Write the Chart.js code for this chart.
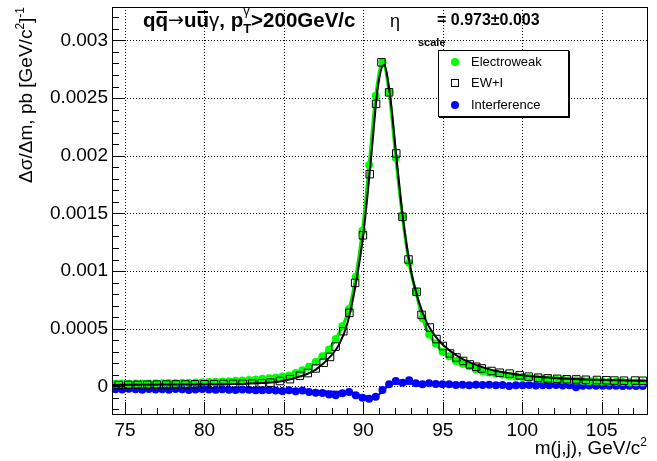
<!DOCTYPE html>
<html>
<head>
<meta charset="utf-8">
<script src="https://cdn.jsdelivr.net/npm/chart.js@4"></script>
<style>
  html, body { margin: 0; padding: 0; background: #fff; }
  canvas { display: block; }
</style>
</head>
<body>
<canvas id="massChart" width="657" height="461"></canvas>
<script>
// m(j,j) bin centres shared by the Electroweak and Interference histograms
const massBins = [
  74.40, 74.82, 75.24, 75.66, 76.08, 76.50, 76.92, 77.34, 77.76, 78.18,
  78.60, 79.02, 79.44, 79.86, 80.28, 80.70, 81.12, 81.54, 81.96, 82.38,
  82.80, 83.22, 83.64, 84.06, 84.48, 84.90, 85.32, 85.74, 86.16, 86.58,
  87.00, 87.42, 87.84, 88.26, 88.68, 89.10, 89.52, 89.94, 90.36, 90.78,
  91.20, 91.62, 92.04, 92.46, 92.88, 93.30, 93.72, 94.14, 94.56, 94.98,
  95.40, 95.82, 96.24, 96.66, 97.08, 97.50, 97.92, 98.34, 98.76, 99.18,
  99.60, 100.02, 100.44, 100.86, 101.28, 101.70, 102.12, 102.54, 102.96, 103.38,
  103.80, 104.22, 104.64, 105.06, 105.48, 105.90, 106.32, 106.74, 107.16, 107.58
];

const electroweak = [
  2.2e-5, 2.3e-5, 2.3e-5, 2.4e-5, 2.5e-5, 2.5e-5, 2.6e-5, 2.7e-5, 2.8e-5, 2.9e-5,
  3.1e-5, 3.2e-5, 3.4e-5, 3.6e-5, 3.8e-5, 4.0e-5, 4.2e-5, 4.5e-5, 4.8e-5, 5.1e-5,
  5.5e-5, 6.0e-5, 6.5e-5, 7.0e-5, 7.7e-5, 8.5e-5, 9.5e-5, 1.15e-4, 1.4e-4, 1.7e-4,
  2.1e-4, 2.6e-4, 3.2e-4, 4.1e-4, 5.2e-4, 6.7e-4, 9.5e-4, 1.35e-3, 1.92e-3, 2.52e-3,
  2.81e-3, 2.55e-3, 1.98e-3, 1.47e-3, 1.07e-3, 8.2e-4, 5.9e-4, 4.5e-4, 3.7e-4, 3.0e-4,
  2.6e-4, 2.2e-4, 1.95e-4, 1.75e-4, 1.45e-4, 1.3e-4, 1.2e-4, 1.1e-4, 1.0e-4, 9.2e-5,
  8.6e-5, 8.0e-5, 7.5e-5, 7.0e-5, 6.6e-5, 6.2e-5, 5.9e-5, 5.6e-5, 5.3e-5, 5.0e-5,
  4.8e-5, 4.6e-5, 4.4e-5, 4.2e-5, 4.0e-5, 3.9e-5, 3.7e-5, 3.6e-5, 3.4e-5, 3.3e-5
];

const interference = [
  -2.5e-5, -2.8e-5, -2.2e-5, -2.6e-5, -3.0e-5, -2.4e-5, -2.7e-5, -2.5e-5, -2.9e-5, -2.3e-5,
  -2.6e-5, -3.1e-5, -2.7e-5, -2.4e-5, -2.8e-5, -3.0e-5, -2.6e-5, -2.9e-5, -3.2e-5, -2.7e-5,
  -3.0e-5, -3.3e-5, -3.5e-5, -3.1e-5, -3.6e-5, -4.0e-5, -3.4e-5, -4.2e-5, -3.6e-5, -5.0e-5,
  -5.5e-5, -5.8e-5, -7.0e-5, -7.8e-5, -6.0e-5, -5.0e-5, -7.8e-5, -9.8e-5, -1.07e-4, -9.0e-5,
  -3.2e-5, 1.7e-5, 4.6e-5, 3.2e-5, 5.2e-5, 2.6e-5, 1.7e-5, 2.6e-5, 2.0e-5, 1.7e-5,
  1.7e-5, 1.2e-5, 1.4e-5, 1.0e-5, 1.3e-5, 1.1e-5, 1.3e-5, 1.0e-5, 1.2e-5, 0.2e-5,
  0.9e-5, 1.0e-5, 1.1e-5, 0.8e-5, 1.0e-5, 0.9e-5, 1.1e-5, 0.8e-5, 1.0e-5, -0.8e-5,
  0.6e-5, 0.7e-5, 0.5e-5, 0.6e-5, 0.4e-5, 0.5e-5, 0.3e-5, 0.4e-5, 0.3e-5, 0.2e-5
];

// EW+I open squares
const ewiMass = [
  74.6, 75.2, 75.8, 76.4, 77.0, 77.6, 78.2, 78.8, 79.4, 80.0,
  80.6, 81.2, 81.8, 82.4, 83.0, 83.6, 84.15, 84.75, 85.38, 86.0,
  86.5, 87.0, 87.5, 87.9, 88.25, 88.74, 89.12, 89.48, 89.97, 90.4,
  90.8, 91.14, 91.62, 92.07, 92.46, 92.84, 93.35, 93.66, 94.18, 94.6,
  95.0, 95.45, 95.86, 96.28, 96.7, 97.1, 97.45, 98.06, 98.58, 99.2,
  99.84, 100.4, 101.0, 101.6, 102.2, 102.8, 103.4, 104.0, 104.7, 105.3,
  105.8, 106.4, 107.1, 107.6
];
const ewiValues = [
  1.2e-5, 1.3e-5, 1.3e-5, 1.4e-5, 1.4e-5, 1.5e-5, 1.6e-5, 1.6e-5, 1.7e-5, 1.8e-5,
  1.9e-5, 2.0e-5, 2.1e-5, 2.2e-5, 2.4e-5, 2.6e-5, 3.2e-5, 4.6e-5, 6.2e-5, 9.2e-5,
  1.15e-4, 1.55e-4, 2.05e-4, 2.55e-4, 3.45e-4, 4.78e-4, 6.37e-4, 8.97e-4, 1.31e-3, 1.84e-3,
  2.45e-3, 2.81e-3, 2.55e-3, 2.02e-3, 1.47e-3, 1.10e-3, 8.2e-4, 6.2e-4, 5.1e-4, 4.1e-4,
  3.5e-4, 2.85e-4, 2.5e-4, 2.2e-4, 1.9e-4, 1.7e-4, 1.55e-4, 1.33e-4, 1.18e-4, 1.1e-4,
  9.5e-5, 8.4e-5, 7.5e-5, 6.9e-5, 6.5e-5, 6.1e-5, 6.0e-5, 5.7e-5, 5.5e-5, 5.3e-5,
  5.0e-5, 4.9e-5, 5.0e-5, 4.8e-5
];

// fitted curves
const ewiFitMass = [74.2, 78, 82, 84, 85, 86, 87, 88, 88.5, 89, 89.5, 90, 90.5, 90.9, 91.3, 91.7,
  92.1, 92.5, 93, 93.5, 94, 94.5, 95, 96, 97, 98, 99, 100, 102, 104, 106, 107.85];
const ewiFit = [1.2e-5, 1.5e-5, 2.0e-5, 3.0e-5, 4.8e-5, 8.5e-5, 1.45e-4, 2.7e-4, 3.7e-4, 5.5e-4,
  8.7e-4, 1.32e-3, 2.0e-3, 2.58e-3, 2.79e-3, 2.5e-3, 1.96e-3, 1.45e-3, 1.0e-3, 7.3e-4, 5.5e-4,
  4.4e-4, 3.6e-4, 2.55e-4, 1.9e-4, 1.45e-4, 1.17e-4, 9.6e-5, 7.2e-5, 5.9e-5, 5.2e-5, 4.8e-5];

const intFitMass = [74.2, 78, 82, 85, 87, 88.5, 89.5, 90, 90.5, 90.8, 91.1, 91.5, 91.9, 92.5,
  93.5, 95, 97, 100, 104, 107.85];
const intFit = [-2.3e-5, -2.5e-5, -2.9e-5, -3.5e-5, -4.2e-5, -4.8e-5, -6.6e-5, -8.2e-5, -9.5e-5,
  -9.0e-5, -5.5e-5, -0.5e-5, 2.2e-5, 2.3e-5, 2.0e-5, 1.6e-5, 1.2e-5, 0.9e-5, 0.6e-5, 0.4e-5];

const xTicks = [75, 80, 85, 90, 95, 100, 105];
const yTicks = [0, 0.0005, 0.001, 0.0015, 0.002, 0.0025, 0.003];
const yTickLabels = ['0', '0.0005', '0.001', '0.0015', '0.002', '0.0025', '0.003'];

const FONT = "'Liberation Sans', Arial, Helvetica, sans-serif";
const toPoints = (xs, ys) => xs.map((x, i) => ({ x: x, y: ys[i] }));

// draw a row of text pieces (sub/superscripts, overlines)
function drawRuns(ctx, x, y, runs) {
  runs.forEach(r => {
    ctx.font = r.font;
    const w = ctx.measureText(r.text).width;
    ctx.fillText(r.text, x + (r.dx || 0), y + (r.dy || 0));
    if (r.bar) ctx.fillRect(x + 1, y - 16, w - 2, 2);
    x += r.adv === undefined ? w : r.adv;
  });
  return x;
}
function runsWidth(ctx, runs) {
  let w = 0;
  runs.forEach(r => { ctx.font = r.font; w += r.adv === undefined ? ctx.measureText(r.text).width : r.adv; });
  return w;
}

const rootFrame = {
  id: 'rootFrame',
  beforeDatasetsDraw(chart) {
    const { ctx, chartArea: a, scales: { x, y } } = chart;
    ctx.save();
    ctx.strokeStyle = '#000';
    ctx.lineWidth = 1;
    ctx.setLineDash([1, 2]);
    ctx.beginPath();
    xTicks.forEach(v => {
      const px = Math.round(x.getPixelForValue(v)) + 0.5;
      ctx.moveTo(px, a.top); ctx.lineTo(px, a.bottom);
    });
    yTicks.forEach(v => {
      const py = Math.round(y.getPixelForValue(v)) + 0.5;
      ctx.moveTo(a.left, py); ctx.lineTo(a.right, py);
    });
    ctx.stroke();
    ctx.restore();
  },
  afterDatasetsDraw(chart) {
    const { ctx, chartArea: a, scales: { x, y } } = chart;
    ctx.save();
    ctx.strokeStyle = '#000';
    ctx.lineWidth = 1;
    ctx.beginPath();
    // x ticks, every 1 GeV
    for (let v = Math.ceil(x.min); v <= x.max; v++) {
      const px = Math.round(x.getPixelForValue(v)) + 0.5;
      const len = v % 5 === 0 ? 12 : 6;
      ctx.moveTo(px, a.bottom); ctx.lineTo(px, a.bottom - len);
    }
    // y ticks, every 0.0001
    for (let k = -2; k <= 32; k++) {
      const v = k * 0.0001;
      if (v < y.min || v > y.max) continue;
      const py = Math.round(y.getPixelForValue(v)) + 0.5;
      const len = k % 5 === 0 ? 13 : 7;
      ctx.moveTo(a.left, py); ctx.lineTo(a.left + len, py);
    }
    ctx.stroke();
    ctx.strokeRect(Math.round(a.left) + 0.5, Math.round(a.top) + 0.5,
      Math.round(a.right - a.left), Math.round(a.bottom - a.top));
    ctx.restore();
  },
  afterDraw(chart) {
    const ctx = chart.ctx;
    ctx.save();
    ctx.fillStyle = '#000';
    ctx.textBaseline = 'alphabetic';
    ctx.textAlign = 'left';

    // title
    const B = 'bold 20.5px ' + FONT;
    const R = '20.5px ' + FONT;
    drawRuns(ctx, 143, 27, [
      { text: 'q', font: B },
      { text: 'q', font: B, bar: true },
      { text: '\u2192', font: "19px 'DejaVu Sans'", dy: -1 },
      { text: 'u', font: B },
      { text: 'u', font: B, bar: true },
      { text: '\u03b3', font: R },
      { text: ', p', font: B },
      { text: '\u03b3', font: '13px ' + FONT, dy: -12, adv: 0 },
      { text: 'T', font: 'bold 13px ' + FONT, dy: 6 },
      { text: '>200GeV/c', font: B }
    ]);
    drawRuns(ctx, 390, 27, [{ text: '\u03b7', font: '18px ' + FONT }]);
    drawRuns(ctx, 418, 46, [{ text: 'scale', font: 'bold 11px ' + FONT }]);
    drawRuns(ctx, 437, 25, [{ text: '= 0.973\u00b10.003', font: 'bold 16px ' + FONT }]);

    // x axis title, right aligned
    const xt = [
      { text: 'm(j,j), GeV/c', font: '19px ' + FONT },
      { text: '2', font: '12px ' + FONT, dy: -8 }
    ];
    drawRuns(ctx, 647 - runsWidth(ctx, xt), 454, xt);

    // y axis title, rotated, right aligned at the top
    const yt = [
      { text: '\u0394\u03c3/\u0394m, pb [GeV/c', font: '19px ' + FONT },
      { text: '2', font: '12px ' + FONT, dy: -8 },
      { text: ']', font: '19px ' + FONT },
      { text: '-1', font: '12px ' + FONT, dy: -8 }
    ];
    const yw = runsWidth(ctx, yt);
    ctx.save();
    ctx.translate(32, 7 + yw);
    ctx.rotate(-Math.PI / 2);
    drawRuns(ctx, 0, 0, yt);
    ctx.restore();

    // legend box
    ctx.fillStyle = '#fff';
    ctx.fillRect(438, 50, 130, 66);
    ctx.strokeStyle = '#000';
    ctx.lineWidth = 1;
    ctx.strokeRect(438.5, 50.5, 130, 66);
    ctx.beginPath();
    ctx.moveTo(439, 117.5); ctx.lineTo(570, 117.5);
    ctx.moveTo(569.5, 51); ctx.lineTo(569.5, 118);
    ctx.stroke();

    ctx.fillStyle = '#00ff00';
    ctx.beginPath(); ctx.arc(455, 62, 4, 0, Math.PI * 2); ctx.fill();
    ctx.strokeRect(451.5, 79.5, 7, 7);
    ctx.fillStyle = '#0000ff';
    ctx.beginPath(); ctx.arc(455, 105, 4, 0, Math.PI * 2); ctx.fill();

    ctx.fillStyle = '#000';
    ctx.font = '13px ' + FONT;
    ctx.textBaseline = 'middle';
    ctx.fillText('Electroweak', 471, 62);
    ctx.fillText('EW+I', 471, 83);
    ctx.fillText('Interference', 471, 105);
    ctx.restore();
  }
};

new Chart(document.getElementById('massChart'), {
  type: 'scatter',
  data: {
    datasets: [
      {
        label: 'EW+I fit',
        data: toPoints(ewiFitMass, ewiFit),
        showLine: true,
        borderColor: '#000',
        borderWidth: 2,
        pointRadius: 0,
        cubicInterpolationMode: 'monotone'
      },
      {
        label: 'EW+I',
        data: toPoints(ewiMass, ewiValues),
        pointStyle: 'rect',
        pointRadius: 5.3,
        borderColor: '#000',
        borderWidth: 1,
        backgroundColor: 'rgba(0,0,0,0)'
      },
      {
        label: 'Electroweak',
        data: toPoints(massBins, electroweak),
        showLine: true,
        borderColor: '#00e600',
        borderWidth: 3,
        pointRadius: 4,
        pointBorderWidth: 0,
        pointBackgroundColor: '#00ff00',
        cubicInterpolationMode: 'monotone'
      },
      {
        label: 'Interference fit',
        data: toPoints(intFitMass, intFit),
        showLine: true,
        borderColor: '#0000ff',
        borderWidth: 2,
        pointRadius: 0,
        cubicInterpolationMode: 'monotone'
      },
      {
        label: 'Interference',
        data: toPoints(massBins, interference),
        pointRadius: 4,
        pointBorderWidth: 0,
        pointBackgroundColor: '#0000ff'
      }
    ]
  },
  options: {
    responsive: false,
    devicePixelRatio: 1,
    animation: false,
    layout: { padding: { top: 7, right: 10, left: 0, bottom: 0 } },
    plugins: {
      legend: { display: false },
      tooltip: { enabled: false }
    },
    scales: {
      x: {
        type: 'linear',
        min: 74.18,
        max: 107.85,
        afterBuildTicks: s => { s.ticks = xTicks.map(v => ({ value: v })); },
        afterFit: s => { s.height = 47; s.paddingLeft = 0; s.paddingRight = 0; },
        grid: { display: false, drawTicks: false },
        border: { display: false },
        ticks: {
          autoSkip: false,
          maxRotation: 0,
          padding: 5,
          color: '#000',
          font: { family: FONT, size: 19 },
          callback: v => String(v)
        }
      },
      y: {
        type: 'linear',
        min: -0.00024,
        max: 0.00329,
        afterBuildTicks: s => { s.ticks = yTicks.map(v => ({ value: v })); },
        afterFit: s => { s.width = 112; s.paddingTop = 0; s.paddingBottom = 0; },
        grid: { display: false, drawTicks: false },
        border: { display: false },
        ticks: {
          autoSkip: false,
          padding: 4,
          color: '#000',
          font: { family: FONT, size: 19 },
          callback: (v, i) => yTickLabels[i]
        }
      }
    }
  },
  plugins: [rootFrame]
});
</script>
</body>
</html>
